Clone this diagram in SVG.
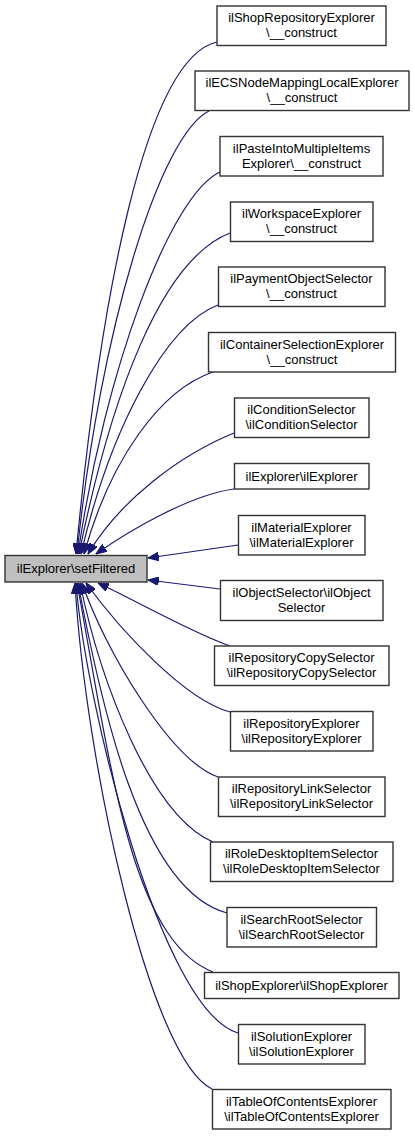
<svg xmlns="http://www.w3.org/2000/svg" width="415" height="1136" viewBox="0 0 415 1136">
<style>
.node rect{fill:#ffffff;stroke:#333333;stroke-width:1.4}
.node.main rect{fill:#bfbfbf}
text{font-family:"Liberation Sans",Arial,sans-serif;font-size:13px;fill:#000000;text-anchor:middle}
.edges path{fill:none;stroke:#191970;stroke-width:1.2;marker-end:url(#arrow)}
</style>
<defs>
<marker id="arrow" viewBox="0 0 10 8" refX="10" refY="4" markerWidth="11" markerHeight="8.5" markerUnits="userSpaceOnUse" orient="auto">
<path d="M0,0 L10,4 L0,8 z" fill="#191970" stroke="#191970" stroke-width="1"/>
</marker>
</defs>
<rect width="415" height="1136" fill="#ffffff"/>
<g class="edges" id="edges">
<path d="M217,42 C145,58 100,300 76,554"/>
<path d="M209,111 C160,135 100,330 77,554"/>
<path d="M220,172 C170,195 105,370 78,554"/>
<path d="M230,233 C160,260 110,400 79,554"/>
<path d="M218,305 C165,325 110,430 81,554"/>
<path d="M213,372 C160,390 110,460 84,554"/>
<path d="M234,433 C180,455 120,500 88,554"/>
<path d="M234,489 C190,495 130,530 96,554"/>
<path d="M238,545 L148,558"/>
<path d="M220,589 L148,580"/>
<path d="M230,646 C190,632 135,600 98,583"/>
<path d="M230,712 C185,700 120,630 86,583"/>
<path d="M218,777 C170,760 105,650 82,583"/>
<path d="M213,842 C150,815 100,680 80,583"/>
<path d="M227,913 C140,890 100,700 78,583"/>
<path d="M213,972 C130,940 110,760 77,583"/>
<path d="M238,1033 C160,1010 85,700 76,583"/>
<path d="M212,1089 C150,1060 85,760 75,583"/>
</g>
<g class="node main" id="node-setFiltered"><rect x="5" y="555.5" width="142" height="26.5"/><text x="76" y="572.5">ilExplorer\setFiltered</text></g>
<g class="node" id="node-shopRepo"><rect x="217" y="6" width="169" height="39.5"/><text x="301.5" y="22">ilShopRepositoryExplorer</text><text x="301.5" y="37">\__construct</text></g>
<g class="node" id="node-ecs"><rect x="195" y="71" width="214" height="39.5"/><text x="302" y="87">ilECSNodeMappingLocalExplorer</text><text x="302" y="102">\__construct</text></g>
<g class="node" id="node-paste"><rect x="220" y="136.5" width="163" height="39.5"/><text x="301.5" y="152.5">ilPasteIntoMultipleItems</text><text x="301.5" y="167.5">Explorer\__construct</text></g>
<g class="node" id="node-workspace"><rect x="230.5" y="202" width="142.5" height="39.5"/><text x="301.5" y="218">ilWorkspaceExplorer</text><text x="301.5" y="233">\__construct</text></g>
<g class="node" id="node-payment"><rect x="218.5" y="267" width="166.5" height="39.5"/><text x="301.5" y="283">ilPaymentObjectSelector</text><text x="301.5" y="298">\__construct</text></g>
<g class="node" id="node-container"><rect x="208.5" y="332.5" width="187" height="39.5"/><text x="302" y="348.5">ilContainerSelectionExplorer</text><text x="302" y="363.5">\__construct</text></g>
<g class="node" id="node-condition"><rect x="234.5" y="398" width="134.5" height="39.5"/><text x="301.5" y="414">ilConditionSelector</text><text x="301.5" y="429">\ilConditionSelector</text></g>
<g class="node" id="node-explorer"><rect x="234.5" y="463.5" width="134.5" height="25.5"/><text x="301.5" y="480.5">ilExplorer\ilExplorer</text></g>
<g class="node" id="node-material"><rect x="238.5" y="515.5" width="126.5" height="39.5"/><text x="301.5" y="531.5">ilMaterialExplorer</text><text x="301.5" y="546.5">\ilMaterialExplorer</text></g>
<g class="node" id="node-object"><rect x="220.5" y="580.5" width="162.5" height="40"/><text x="301.5" y="597">ilObjectSelector\ilObject</text><text x="301.5" y="612">Selector</text></g>
<g class="node" id="node-repoCopy"><rect x="214.5" y="646" width="174.5" height="39.5"/><text x="301.5" y="662">ilRepositoryCopySelector</text><text x="301.5" y="677">\ilRepositoryCopySelector</text></g>
<g class="node" id="node-repoExplorer"><rect x="230.5" y="711.5" width="142.5" height="39.5"/><text x="301.5" y="727.5">ilRepositoryExplorer</text><text x="301.5" y="742.5">\ilRepositoryExplorer</text></g>
<g class="node" id="node-repoLink"><rect x="218.5" y="777" width="166.5" height="39.5"/><text x="301.5" y="793">ilRepositoryLinkSelector</text><text x="301.5" y="808">\ilRepositoryLinkSelector</text></g>
<g class="node" id="node-roleDesktop"><rect x="210.5" y="842" width="182.5" height="39.5"/><text x="301.5" y="858">ilRoleDesktopItemSelector</text><text x="301.5" y="873">\ilRoleDesktopItemSelector</text></g>
<g class="node" id="node-searchRoot"><rect x="227" y="907.5" width="149.5" height="39.5"/><text x="301.5" y="923.5">ilSearchRootSelector</text><text x="301.5" y="938.5">\ilSearchRootSelector</text></g>
<g class="node" id="node-shopExplorer"><rect x="204.5" y="972.5" width="194.5" height="26"/><text x="301.5" y="990">ilShopExplorer\ilShopExplorer</text></g>
<g class="node" id="node-solution"><rect x="238.5" y="1024.5" width="126.5" height="39.5"/><text x="301.5" y="1040.5">ilSolutionExplorer</text><text x="301.5" y="1055.5">\ilSolutionExplorer</text></g>
<g class="node" id="node-toc"><rect x="212.5" y="1089.5" width="178.5" height="39.5"/><text x="301.5" y="1105.5">ilTableOfContentsExplorer</text><text x="301.5" y="1120.5">\ilTableOfContentsExplorer</text></g>
</svg>
